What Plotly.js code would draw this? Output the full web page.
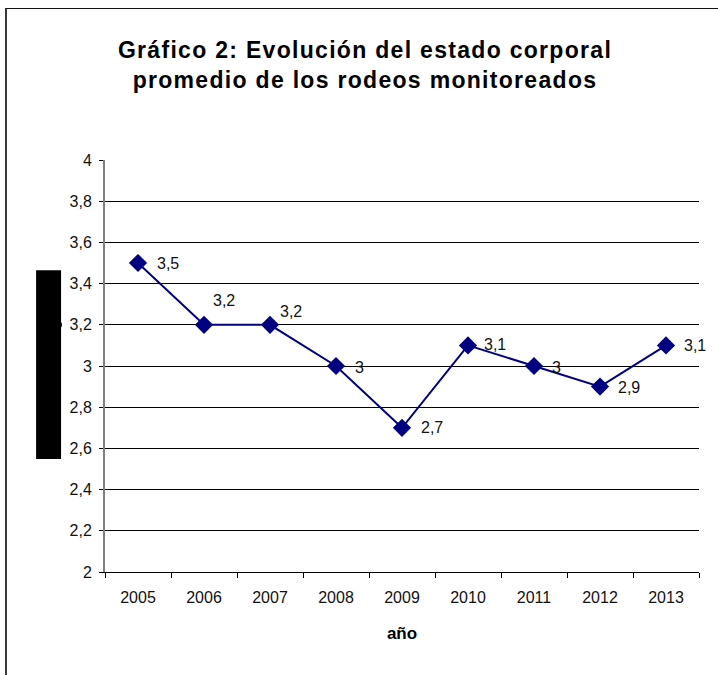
<!DOCTYPE html>
<html>
<head>
<meta charset="utf-8">
<script src="https://cdn.plot.ly/plotly-3.0.1.min.js"></script>
<style>
  html, body { margin: 0; padding: 0; background: #fff; overflow: hidden; }
  #wrap { position: relative; width: 718px; height: 675px; }
  #chart { position: absolute; left: 0; top: 0; width: 718px; height: 675px; }
  #frame { position: absolute; left: 5px; top: 8px; width: 800px; height: 800px;
           border-left: 2px solid #3a3a3a; border-top: 1.5px solid #111; pointer-events: none; }
  .gtitle { letter-spacing: 1.3px; }
</style>
</head>
<body>
<div id="wrap">
  <div id="chart"></div>
  <div id="frame"></div>
</div>
<script>
// Data
const years = ['2005', '2006', '2007', '2008', '2009', '2010', '2011', '2012', '2013'];
const condition = [3.5, 3.2, 3.2, 3.0, 2.7, 3.1, 3.0, 2.9, 3.1];
const valueLabels = ['3,5', '3,2', '3,2', '3', '2,7', '3,1', '3', '2,9', '3,1'];
const yTickVals = [2, 2.2, 2.4, 2.6, 2.8, 3, 3.2, 3.4, 3.6, 3.8, 4];
const yTickText = ['2', '2,2', '2,4', '2,6', '2,8', '3', '3,2', '3,4', '3,6', '3,8', '4'];

// Label placement (styling, pixels)
const labelDx = [30, 20, 21, 23, 30, 27, 22, 29, 29];
const labelDy = [0, 24, 13, -1, 0, 1, -1, -1, 0];

const NAVY = '#000080';
const FONT = 'Liberation Sans, Arial, sans-serif';

const trace = {
  x: years,
  y: condition,
  type: 'scatter',
  mode: 'lines+markers',
  line: { color: NAVY, width: 2 },
  marker: { symbol: 'diamond', size: 14, color: NAVY },
  hoverinfo: 'x+y'
};

// category axis: annotation x given as the category index
const annotations = years.map((yr, i) => ({
  x: i, y: condition[i], xref: 'x', yref: 'y',
  text: valueLabels[i], showarrow: false,
  xshift: labelDx[i], yshift: labelDy[i],
  font: { family: FONT, size: 16, color: '#111' }
}));

const layout = {
  width: 718, height: 675,
  margin: { l: 105, r: 19, t: 160, b: 103, pad: 0 },
  paper_bgcolor: 'rgba(0,0,0,0)',
  plot_bgcolor: '#fff',
  showlegend: false,
  font: { family: FONT, size: 16, color: '#111' },
  title: {
    text: 'Gráfico 2: Evolución del estado corporal<br>promedio de los rodeos monitoreados',
    font: { family: FONT, size: 23, color: '#000', weight: 'bold' },
    x: 365 / 718, xanchor: 'center', xref: 'container',
    y: 1 - 58 / 675, yanchor: 'middle', yref: 'container'
  },
  xaxis: {
    type: 'category',
    range: [-0.5, years.length - 0.5],
    tickson: 'boundaries',
    ticks: 'outside', ticklen: 5, tickwidth: 1, tickcolor: '#000',
    showline: true, linecolor: '#000', linewidth: 1,
    showgrid: false, zeroline: false,
    tickfont: { family: FONT, size: 16, color: '#111' },
    ticklabelstandoff: 11,
    title: { text: 'año', font: { family: FONT, size: 17, color: '#000', weight: 'bold' }, standoff: 21 }
  },
  yaxis: {
    range: [2, 4],
    tickvals: yTickVals, ticktext: yTickText,
    ticks: 'outside', ticklen: 4, tickwidth: 1, tickcolor: '#000',
    showline: true, linecolor: '#808080', linewidth: 2,
    showgrid: true, gridcolor: '#000', gridwidth: 1,
    zeroline: false,
    tickfont: { family: FONT, size: 16, color: '#111' },
    ticklabelstandoff: 4
  },
  shapes: [
    { type: 'rect', xref: 'paper', yref: 'y', x0: -0.116, x1: -0.074, y0: 2.548, y1: 3.465,
      fillcolor: '#000', line: { width: 0 }, layer: 'above' },
    { type: 'circle', xref: 'paper', yref: 'y', x0: -0.0795, x1: -0.0725, y0: 3.185, y1: 3.215,
      fillcolor: '#000', line: { width: 0 }, layer: 'above' }
  ],
  annotations: annotations
};

Plotly.newPlot('chart', [trace], layout, { displayModeBar: false, staticPlot: true });
</script>
</body>
</html>
